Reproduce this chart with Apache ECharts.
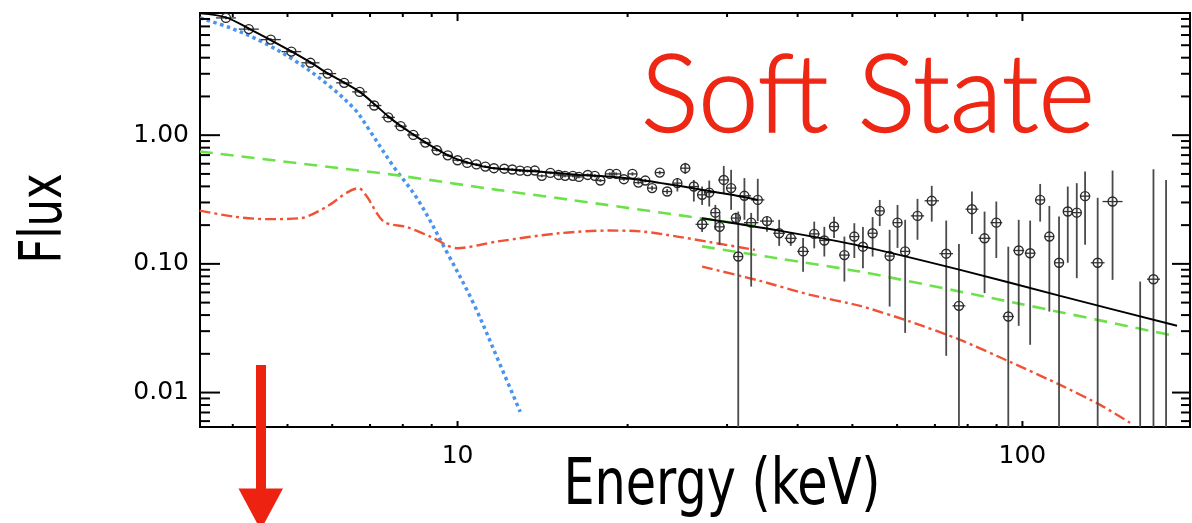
<!DOCTYPE html>
<html>
<head>
<meta charset="utf-8">
<script src="https://cdn.jsdelivr.net/npm/echarts@6/dist/echarts.min.js"></script>
<style>html,body{margin:0;padding:0;background:#fff;}#c{width:1192px;height:523px;}</style>
</head>
<body>
<div id="c"></div>
<script>
// ---------- axes ----------
const energyRange = [3.5, 198];
const fluxRange = [0.0054, 8.9];
const xTickValues = [10, 100];
const xTickLabels = ['10', '100'];
const yTickValues = [0.01, 0.1, 1];
const yTickLabels = ['0.01', '0.10', '1.00'];
const xMinorTicks = [4, 5, 6, 7, 8, 9, 20, 30, 40, 50, 60, 70, 80, 90];
const yMinorTicks = [0.006, 0.007, 0.008, 0.009, 0.02, 0.03, 0.04, 0.05, 0.06, 0.07, 0.08, 0.09,
  0.2, 0.3, 0.4, 0.5, 0.6, 0.7, 0.8, 0.9, 2, 3, 4, 5, 6, 7, 8];

// ---------- data: [energy, flux, flux low, flux high] ----------
const softData = [
  [3.89, 8.15, 7.95, 8.35], [4.27, 6.67, 6.50, 6.84], [4.67, 5.53, 5.39, 5.67], [5.08, 4.46, 4.35, 4.57],
  [5.49, 3.65, 3.56, 3.74], [5.89, 3.01, 2.94, 3.08], [6.30, 2.55, 2.49, 2.61], [6.71, 2.17, 2.12, 2.22],
  [7.12, 1.70, 1.66, 1.74], [7.54, 1.375, 1.34, 1.41], [7.93, 1.175, 1.15, 1.20], [8.35, 1.005, 0.98, 1.03],
  [8.77, 0.876, 0.855, 0.897], [9.19, 0.764, 0.746, 0.782], [9.61, 0.697, 0.680, 0.714], [10.0, 0.639, 0.624, 0.654],
  [10.4, 0.609, 0.594, 0.624], [10.8, 0.593, 0.579, 0.607], [11.2, 0.570, 0.556, 0.584], [11.6, 0.554, 0.541, 0.567],
  [12.1, 0.549, 0.536, 0.562], [12.5, 0.541, 0.528, 0.554], [12.9, 0.530, 0.517, 0.543], [13.3, 0.526, 0.513, 0.539],
  [13.7, 0.531, 0.518, 0.544], [14.1, 0.483, 0.471, 0.495], [14.6, 0.509, 0.497, 0.521], [15.1, 0.491, 0.479, 0.503],
  [15.5, 0.483, 0.471, 0.495], [16.0, 0.483, 0.471, 0.495], [16.4, 0.474, 0.462, 0.486], [17.0, 0.491, 0.478, 0.504],
  [17.5, 0.483, 0.470, 0.496], [17.9, 0.444, 0.432, 0.456], [18.6, 0.500, 0.486, 0.514], [19.1, 0.500, 0.486, 0.514],
  [19.7, 0.455, 0.442, 0.468], [20.4, 0.500, 0.485, 0.515], [20.9, 0.428, 0.415, 0.441], [21.5, 0.444, 0.430, 0.458],
  [22.1, 0.388, 0.372, 0.404], [22.8, 0.512, 0.495, 0.529], [23.5, 0.365, 0.348, 0.382], [24.5, 0.424, 0.365, 0.465],
  [25.3, 0.554, 0.50, 0.61], [26.2, 0.399, 0.305, 0.449], [27.1, 0.344, 0.287, 0.399], [27.9, 0.358, 0.279, 0.444],
  [29.6, 0.449, 0.354, 0.577], [30.5, 0.388, 0.263, 0.538], [32.2, 0.338, 0.220, 0.464], [34.0, 0.314, 0.215, 0.458]
];
const hardData = [
  [27.1, 0.203, 0.177, 0.228], [28.6, 0.250, 0.184, 0.287], [29.1, 0.194, 0.140, 0.240], [31.1, 0.227, 0.2045, 0.249],
  [31.4, 0.114, 0.001, 0.255], [33.1, 0.209, 0.0666, 0.249], [35.3, 0.215, 0.178, 0.233], [37.1, 0.173, 0.138, 0.220],
  [38.9, 0.158, 0.138, 0.175], [40.9, 0.125, 0.087, 0.159], [42.8, 0.171, 0.132, 0.213], [44.6, 0.152, 0.114, 0.194],
  [46.4, 0.195, 0.159, 0.232], [48.4, 0.117, 0.0729, 0.163], [50.4, 0.163, 0.111, 0.207], [52.2, 0.136, 0.0926, 0.193],
  [54.3, 0.173, 0.114, 0.231], [55.9, 0.258, 0.197, 0.314], [58.2, 0.115, 0.0466, 0.184], [60.1, 0.209, 0.133, 0.287],
  [62.0, 0.125, 0.0291, 0.220], [65.2, 0.236, 0.154, 0.320], [69.1, 0.309, 0.213, 0.404], [73.3, 0.120, 0.0193, 0.217],
  [77.2, 0.0472, 0.001, 0.143], [81.4, 0.266, 0.171, 0.365], [85.7, 0.158, 0.0592, 0.255], [89.9, 0.209, 0.111, 0.305],
  [94.4, 0.0390, 0.001, 0.136], [98.5, 0.127, 0.0330, 0.220], [103.2, 0.121, 0.0235, 0.217], [107.5, 0.314, 0.213, 0.418],
  [111.6, 0.163, 0.0426, 0.282], [116.1, 0.102, 0.001, 0.233], [120.3, 0.255, 0.102, 0.399], [124.8, 0.250, 0.0774, 0.424],
  [129.1, 0.336, 0.1405, 0.522], [135.9, 0.102, 0.001, 0.326], [144.4, 0.305, 0.0751, 0.531], [161.6, 0.003, 0.001, 0.0729],
  [170.6, 0.0760, 0.001, 0.544], [179.6, 0.003, 0.001, 0.449]
];

// ---------- model curves: [energy, flux] ----------
const totalModelSoft = [
  [3.50, 8.84], [3.89, 8.23], [4.28, 6.70], [4.66, 5.50], [5.08, 4.48], [5.49, 3.68], [5.89, 3.02], [6.31, 2.55],
  [6.73, 2.15], [7.12, 1.75], [7.54, 1.40], [7.93, 1.18], [8.35, 1.014], [8.77, 0.879], [9.20, 0.776], [9.59, 0.703],
  [10.0, 0.648], [10.4, 0.615], [10.8, 0.588], [11.2, 0.567], [11.6, 0.554], [12.1, 0.544], [12.9, 0.533], [14.0, 0.519],
  [15.2, 0.505], [16.5, 0.491], [17.9, 0.481], [19.4, 0.468], [21.1, 0.448], [22.8, 0.426], [24.8, 0.402], [26.9, 0.379],
  [29.2, 0.356], [31.7, 0.334], [34.0, 0.314]
];
const totalModelHard = [[27.1, 0.2265], [37.3, 0.1805], [51.6, 0.138], [77.6, 0.0898], [116.6, 0.0564], [187.8, 0.0330]];
const powerLawSoft = [[3.50, 0.746], [7.60, 0.496], [11.76, 0.376], [15.64, 0.317], [26.9, 0.2265], [34.0, 0.1956]];
const powerLawHard = [[27.1, 0.1368], [37.3, 0.1094], [51.6, 0.0871], [99.06, 0.0489], [187.8, 0.0273]];
const reflectionSoft = [
  [3.495, 0.2595], [4.01, 0.2331], [4.60, 0.2225], [5.27, 0.2265], [5.87, 0.2788], [6.37, 0.358], [6.68, 0.3876],
  [6.91, 0.3334], [7.40, 0.2132], [8.14, 0.1929], [8.95, 0.1630], [9.99, 0.1324], [11.74, 0.149], [15.2, 0.1732],
  [18.6, 0.1815], [21.3, 0.1782], [24.5, 0.1630], [28.0, 0.1475], [33.6, 0.1285]
];
const reflectionHard = [
  [27.1, 0.0953], [34.3, 0.0738], [42.1, 0.0574], [51.6, 0.0472], [63.3, 0.0356], [77.6, 0.0257], [95.1, 0.0173],
  [116.6, 0.01148], [137.3, 0.00802], [155.1, 0.00582]
];
const diskBlackbody = [
  [3.50, 8.15], [3.96, 6.82], [4.51, 5.31], [5.16, 3.78], [5.90, 2.46], [6.59, 1.573], [6.92, 1.160], [7.69, 0.577],
  [8.49, 0.320], [9.59, 0.1217], [10.66, 0.0498], [11.90, 0.0164], [12.91, 0.00708]
];

const titleText = 'Soft State';
const xName = 'Energy (keV)';
const yName = 'Flux';

// ---------- helpers ----------
function labelFor(values, labels, v) {
  const lv = Math.round(Math.log10(v));
  for (let i = 0; i < values.length; i++) {
    if (Math.round(Math.log10(values[i])) === lv) return labels[i];
  }
  return '';
}

const tickItems = [];
xTickValues.forEach(v => tickItems.push([v, 1, 1]));
xMinorTicks.forEach(v => tickItems.push([v, 1, 0]));
yTickValues.forEach(v => tickItems.push([10, v, 3]));
yMinorTicks.forEach(v => tickItems.push([10, v, 2]));

function tickRender(params, api) {
  const cs = params.coordSys;
  const d = tickItems[params.dataIndex];
  const kind = d[2];
  const L = cs.x, R = cs.x + cs.width, T = cs.y, B = cs.y + cs.height;
  const st = { stroke: '#000', lineWidth: 2 };
  if (kind <= 1) {
    const px = api.coord([d[0], 1])[0];
    const lt = kind === 1 ? 8 : 4, lb = kind === 1 ? 6 : 3;
    return { type: 'group', children: [
      { type: 'line', shape: { x1: px, y1: B, x2: px, y2: B - lb }, style: st },
      { type: 'line', shape: { x1: px, y1: T, x2: px, y2: T + lt }, style: st }
    ] };
  } else {
    const py = api.coord([10, d[1]])[1];
    const ll = kind === 3 ? 20 : 10, lr = kind === 3 ? 18 : 9;
    return { type: 'group', children: [
      { type: 'line', shape: { x1: L, y1: py, x2: L + ll, y2: py }, style: st },
      { type: 'line', shape: { x1: R, y1: py, x2: R - lr, y2: py }, style: st }
    ] };
  }
}

function dataSeries(arr, name) {
  return {
    type: 'custom', name: name, data: arr, encode: { x: 0, y: 1 }, z: 4, silent: true,
    renderItem: function (params, api) {
      const cs = params.coordSys;
      const i = params.dataIndex;
      const d = arr[i];
      const T = cs.y, B = cs.y + cs.height;
      const cy = v => Math.max(T, Math.min(B, v));
      const p = api.coord([d[0], d[1]]);
      const hiY = cy(api.coord([d[0], d[3]])[1]);
      const loY = cy(api.coord([d[0], d[2]])[1]);
      const prev = arr[Math.max(0, i - 1)][0];
      const next = arr[Math.min(arr.length - 1, i + 1)][0];
      const span = api.coord([next, 1])[0] - api.coord([prev, 1])[0];
      let hw = (i === 0 || i === arr.length - 1) ? span / 2 : span / 4;
      hw = Math.max(4.5, Math.min(10, hw));
      const ch = [{ type: 'line', shape: { x1: p[0], y1: loY, x2: p[0], y2: hiY }, style: { stroke: '#4a4a4a', lineWidth: 1.8 } }];
      if (p[1] >= T && p[1] <= B) {
        ch.push({ type: 'line', shape: { x1: p[0] - hw, y1: p[1], x2: p[0] + hw, y2: p[1] }, style: { stroke: '#333', lineWidth: 1.3 } });
        ch.push({ type: 'circle', shape: { cx: p[0], cy: p[1], r: 4.5 }, style: { fill: 'none', stroke: '#2a2a2a', lineWidth: 1.4 } });
      }
      return { type: 'group', children: ch };
    }
  };
}

function curve(data, color, width, dash, smooth, z) {
  return {
    type: 'line', data: data, showSymbol: false, symbol: 'none', smooth: smooth, z: z, silent: true,
    lineStyle: { color: color, width: width, type: dash, cap: 'butt' }, clip: true
  };
}

const nameFont = "'DejaVu Sans Condensed', 'DejaVu Sans', sans-serif";
const chart = echarts.init(document.getElementById('c'), null, { renderer: 'canvas' });
chart.setOption({
  animation: false,
  backgroundColor: '#fff',
  grid: { left: 200, right: 2, top: 13, bottom: 96, containLabel: false, outerBoundsMode: 'none',
    show: true, borderColor: '#000', borderWidth: 2, backgroundColor: 'transparent' },
  xAxis: {
    type: 'log', logBase: 10, min: energyRange[0], max: energyRange[1],
    axisLine: { show: false }, axisTick: { show: false }, splitLine: { show: false }, minorTick: { show: false },
    axisLabel: { showMinLabel: false, showMaxLabel: false, margin: 17, color: '#000', fontFamily: 'DejaVu Sans', fontSize: 25,
      formatter: v => labelFor(xTickValues, xTickLabels, v) }
  },
  yAxis: {
    type: 'log', logBase: 10, min: fluxRange[0], max: fluxRange[1],
    axisLine: { show: false }, axisTick: { show: false }, splitLine: { show: false }, minorTick: { show: false },
    axisLabel: { showMinLabel: false, showMaxLabel: false, margin: 11, color: '#000', fontFamily: 'DejaVu Sans', fontSize: 25,
      formatter: v => labelFor(yTickValues, yTickLabels, v) }
  },
  graphic: [
    { type: 'text', x: 722, y: 487, scaleX: 0.856, z: 10,
      style: { text: xName, fill: '#000', font: '400 64px ' + nameFont, align: 'center', verticalAlign: 'middle' } },
    { type: 'text', x: 46, y: 218.5, rotation: Math.PI / 2, scaleX: 0.83, z: 10,
      style: { text: yName, fill: '#000', font: '400 58px ' + nameFont, align: 'center', verticalAlign: 'middle' } },
    { type: 'text', x: 641, y: 97, z: 10,
      style: { text: titleText, fill: '#ee2614', stroke: '#ee2614', lineWidth: 1.4, font: '300 108px Lato', align: 'left', verticalAlign: 'middle' } },
    { type: 'rect', z: 10, shape: { x: 256, y: 365, width: 10, height: 126 }, style: { fill: '#ee2211' } },
    { type: 'polygon', z: 10, shape: { points: [[238.5, 488.5], [283, 488.5], [260.7, 530]] }, style: { fill: '#ee2211' } }
  ],
  series: [
    { type: 'custom', name: 'ticks', data: tickItems, encode: { x: 0, y: 1 }, renderItem: tickRender, z: 6, silent: true },
    curve(diskBlackbody, '#4a94ee', 3.5, [3.5, 3.5], 0.35, 2),
    curve(powerLawSoft, '#6ce24a', 2.6, [13, 8], 0.2, 2),
    curve(powerLawHard, '#6ce24a', 2.6, [13, 8], 0.2, 2),
    curve(reflectionSoft, '#ef5335', 2.4, [11, 4, 3, 4], 0.3, 2),
    curve(reflectionHard, '#ef5335', 2.4, [11, 4, 3, 4], 0.2, 2),
    dataSeries(softData, 'soft'),
    dataSeries(hardData, 'hard'),
    curve(totalModelSoft, '#000', 2, 'solid', 0.3, 5),
    curve(totalModelHard, '#000', 2, 'solid', 0.3, 5)
  ]
});
</script>
</body>
</html>
